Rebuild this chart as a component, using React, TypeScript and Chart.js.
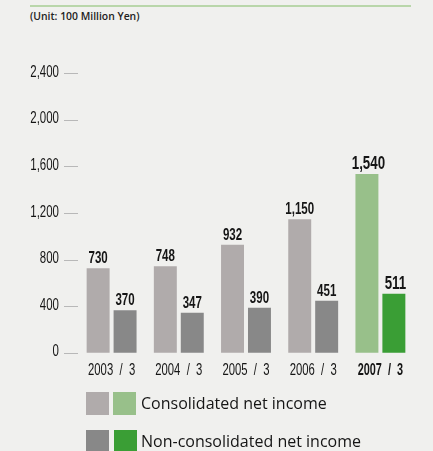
import React, { useEffect, useRef } from "react";
import { Chart, registerables } from "chart.js";

Chart.register(...registerables);

const categories = ["2003 / 3", "2004 / 3", "2005 / 3", "2006 / 3", "2007 / 3"];
const consolidated = [730, 748, 932, 1150, 1540];
const nonConsolidated = [370, 347, 390, 451, 511];
const yTicks = [0, 400, 800, 1200, 1600, 2000, 2400];

const consColors = ["#b0abab", "#b0abab", "#b0abab", "#b0abab", "#98c08a"];
const nonColors = ["#888888", "#888888", "#888888", "#888888", "#3a9e35"];

const FONT = '"Liberation Sans", Arial, sans-serif';
const SQUEEZE = 0.675;
const BG = "#f0f0ee";
const TEXT = "#151515";

function squeezedText(ctx: CanvasRenderingContext2D, text: string, x: number, y: number, align: CanvasTextAlign, k = SQUEEZE) {
  ctx.save();
  ctx.translate(x, y);
  ctx.scale(k, 1);
  ctx.textAlign = align;
  ctx.textBaseline = "alphabetic";
  ctx.fillText(text, 0, 0);
  ctx.restore();
}

const narrowText = {
  id: "narrowText",
  afterDraw(chart: any) {
    const ctx: CanvasRenderingContext2D = chart.ctx;
    ctx.save();
    ctx.fillStyle = TEXT;
    // y-axis labels
    const ys = chart.scales.y;
    ctx.font = `17px ${FONT}`;
    ys.ticks.forEach((t: any) => {
      const py = ys.getPixelForValue(t.value);
      squeezedText(ctx, Number(t.value).toLocaleString("en-US"), chart.chartArea.left - 19, py + 3, "right");
    });
    // x-axis labels
    const xs = chart.scales.x;
    categories.forEach((lab, i) => {
      const last = i === categories.length - 1;
      ctx.font = `${last ? "bold " : ""}17px ${FONT}`;
      const px = xs.getPixelForTick(i);
      squeezedText(ctx, lab.replace(" / ", "  /  "), px, chart.chartArea.bottom + 22, "center", last ? 0.64 : 0.665);
    });
    // value labels
    chart.data.datasets.forEach((ds: any, di: number) => {
      const meta = chart.getDatasetMeta(di);
      meta.data.forEach((bar: any, i: number) => {
        const last = i === categories.length - 1;
        ctx.font = `bold ${last ? 18 : 16}px ${FONT}`;
        const v = ds.data[i] as number;
        squeezedText(ctx, v.toLocaleString("en-US"), bar.x + (last ? 1.5 : 0), bar.y - 5, "center", last ? 0.74 : 0.72);
      });
    });
    ctx.restore();
  },
};

export default function App() {
  const ref = useRef<HTMLCanvasElement>(null);
  useEffect(() => {
    if (!ref.current) return;
    const chart = new Chart(ref.current, {
      type: "bar",
      data: {
        labels: categories,
        datasets: [
          { label: "Consolidated net income", data: consolidated, backgroundColor: consColors, categoryPercentage: 0.802, barPercentage: 0.852 },
          { label: "Non-consolidated net income", data: nonConsolidated, backgroundColor: nonColors, categoryPercentage: 0.802, barPercentage: 0.852 },
        ],
      },
      options: {
        responsive: false,
        animation: false,
        layout: { padding: { top: 73.7, right: 19, left: 0, bottom: 0 } },
        plugins: { legend: { display: false }, tooltip: { enabled: false }, title: { display: false } },
        scales: {
          x: {
            grid: { display: false },
            border: { display: false },
            ticks: { color: "rgba(0,0,0,0)", padding: 4, maxRotation: 0, font: { size: 12 } },
            afterFit: (s: any) => {
              s.height = 451 - 353.3;
            },
          },
          y: {
            min: 0,
            max: 2400,
            afterBuildTicks: (s: any) => {
              s.ticks = yTicks.map((v) => ({ value: v }));
            },
            grid: { drawOnChartArea: false, drawTicks: true, tickLength: 14, color: "#b8b8b8", lineWidth: 1 },
            border: { display: false },
            ticks: { color: "rgba(0,0,0,0)", padding: 5, font: { size: 12 } },
            afterFit: (s: any) => {
              s.width = 78;
            },
          },
        },
      },
      plugins: [narrowText],
    });
    return () => chart.destroy();
  }, []);

  const sw = (c: string, left: number, top: number) => (
    <div style={{ position: "absolute", left, top, width: 23, height: 23, background: c }} />
  );
  const legendText: React.CSSProperties = {
    position: "absolute",
    left: 141,
    fontFamily: '"Open Sans", "Noto Sans", sans-serif',
    fontSize: 16,
    color: TEXT,
    whiteSpace: "nowrap",
    lineHeight: "22px",
  };

  return (
    <div style={{ position: "absolute", left: 0, top: 0, width: 433, height: 451, background: BG, overflow: "hidden" }}>
      <div style={{ position: "absolute", left: 30, top: 5, width: 381, height: 2, background: "#b9d6aa" }} />
      <div
        style={{
          position: "absolute",
          left: 30,
          top: 9,
          fontFamily: '"Open Sans", "Noto Sans", sans-serif',
          fontSize: 10.4,
          fontWeight: 600,
          color: "#222",
          whiteSpace: "nowrap",
          lineHeight: "14px",
        }}
      >
        (Unit: 100 Million Yen)
      </div>
      <canvas ref={ref} width={433} height={451} style={{ position: "absolute", left: 0, top: 0 }} />
      {sw("#b0abab", 86, 392)}
      {sw("#98c08a", 113, 392)}
      {sw("#888888", 86, 430)}
      {sw("#3a9e35", 114, 430)}
      <div style={{ ...legendText, top: 392 }}>Consolidated net income</div>
      <div style={{ ...legendText, top: 430 }}>Non-consolidated net income</div>
    </div>
  );
}
